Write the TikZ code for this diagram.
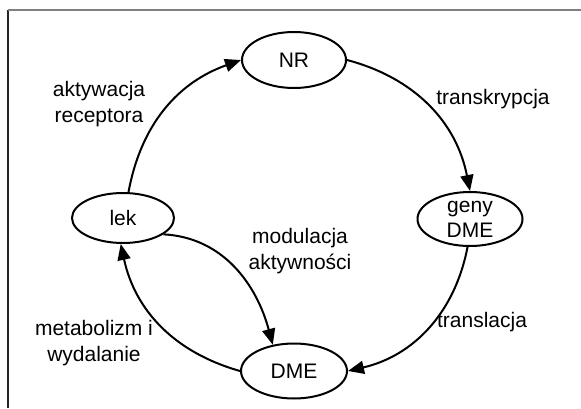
\documentclass[tikz,border=0pt]{standalone}
\usepackage{fontspec}
\setmainfont{Liberation Sans}
\usetikzlibrary{shapes.geometric,arrows.meta}
\begin{document}
\begin{tikzpicture}[x=1pt,y=1pt,
  ell/.style={draw,ellipse,line width=2pt,inner sep=0pt,minimum width=104pt,minimum height=54pt,align=center,font=\fontsize{21}{25}\selectfont},
  lbl/.style={align=center,inner sep=0pt,font=\fontsize{21}{26}\selectfont},
  conn/.style={line width=2pt,-{Triangle[length=16pt,width=13pt]}},
  frameh/.style={line width=1.5pt,draw=black!50},
  framev/.style={line width=1.5pt,draw=black!85}]
\useasboundingbox (0,0) rectangle (581,408);
\coordinate (fa) at (8,0);
\coordinate (fb) at (8,398);
\coordinate (fc) at (581,398);
\draw[framev] (fa) -- (fb);
\draw[frameh] (fb) -- (fc);
\node[ell,minimum height=56pt] (NR) at (294,348) {NR};
\node[ell,minimum width=105pt] (geny) at (470,189) {geny\\DME};
\node[ell,minimum width=102pt,minimum height=50pt] (lek) at (123,190) {lek};
\node[ell,minimum width=106pt,minimum height=55pt] (DME) at (294,37) {DME};
\draw[conn] (lek.78) to[bend left=30] (NR.west);
\draw[conn] (NR.east) to[bend left=32] (geny.north);
\draw[conn] (geny.-95) to[bend left=33] (DME.east);
\draw[conn] (DME.west) to[bend left=31] (lek.-95);
\draw[conn] (lek.-22) to[out=-3,in=105] (DME.129);
\node[lbl] (t1) at (99,304) {aktywacja\\receptora};
\node[lbl] (t2) at (493,309) {transkrypcja};
\node[lbl] (t3) at (300,157) {modulacja\\aktywności};
\node[lbl] (t4) at (482,86) {translacja};
\node[lbl] (t5) at (94,65) {metabolizm i\\wydalanie};
\end{tikzpicture}
\end{document}
